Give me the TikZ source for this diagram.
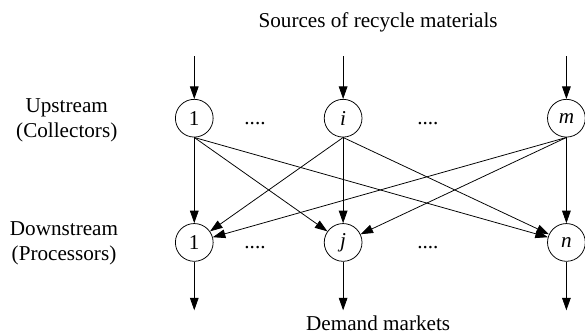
\documentclass[tikz,border=0pt]{standalone}
\usepackage{fontspec}
\setmainfont{Liberation Serif}
\usetikzlibrary{arrows.meta}

\tikzset{
  site/.style={draw, thin, circle, minimum size=0.69cm, inner sep=0pt},
  flow/.style={thin, -{Triangle[length=6.5pt,width=4.5pt]}}
}

\begin{document}
\begin{tikzpicture}[font=\fontsize{11}{13}\selectfont]
\useasboundingbox (0,0) rectangle (10.69,6.11);

% upstream: collectors
\node[site] (u1) at (3.55,3.95) {1};
\node[site] (ui) at (6.27,3.95) {\textit{i}};
\node[site] (um) at (10.35,3.95) {\textit{m}};

% downstream: processors
\node[site] (d1) at (3.55,1.68) {1};
\node[site] (dj) at (6.27,1.68) {\textit{j}};
\node[site] (dn) at (10.35,1.68) {\textit{n}};

\node[anchor=base] (ud1) at (4.66,3.84) {....};
\node[anchor=base] (ud2) at (7.82,3.84) {....};
\node[anchor=base] (dd1) at (4.66,1.57) {....};
\node[anchor=base] (dd2) at (7.82,1.57) {....};

\node[align=center] (up) at (1.22,3.91) {Upstream\\(Collectors)};
\node[align=center] (down) at (1.17,1.66) {Downstream\\(Processors)};

\node[anchor=base] (src) at (6.91,5.61) {Sources of recycle materials};
\node[anchor=base] (dem) at (6.91,0.07) {Demand markets};

% sources in, markets out
\foreach \n in {1,i,m} {
  \coordinate (s\n) at (u\n |- 0,5.08);
  \draw[flow] (s\n) -- (u\n);
}
\foreach \n in {1,j,n} {
  \coordinate (t\n) at (d\n |- 0,0.44);
  \draw[flow] (d\n) -- (t\n);
}

% links between the two tiers
\foreach \a in {1,i,m}
  \foreach \b in {1,j,n}
    \draw[flow] (u\a.south) -- (d\b);

\end{tikzpicture}
\end{document}
